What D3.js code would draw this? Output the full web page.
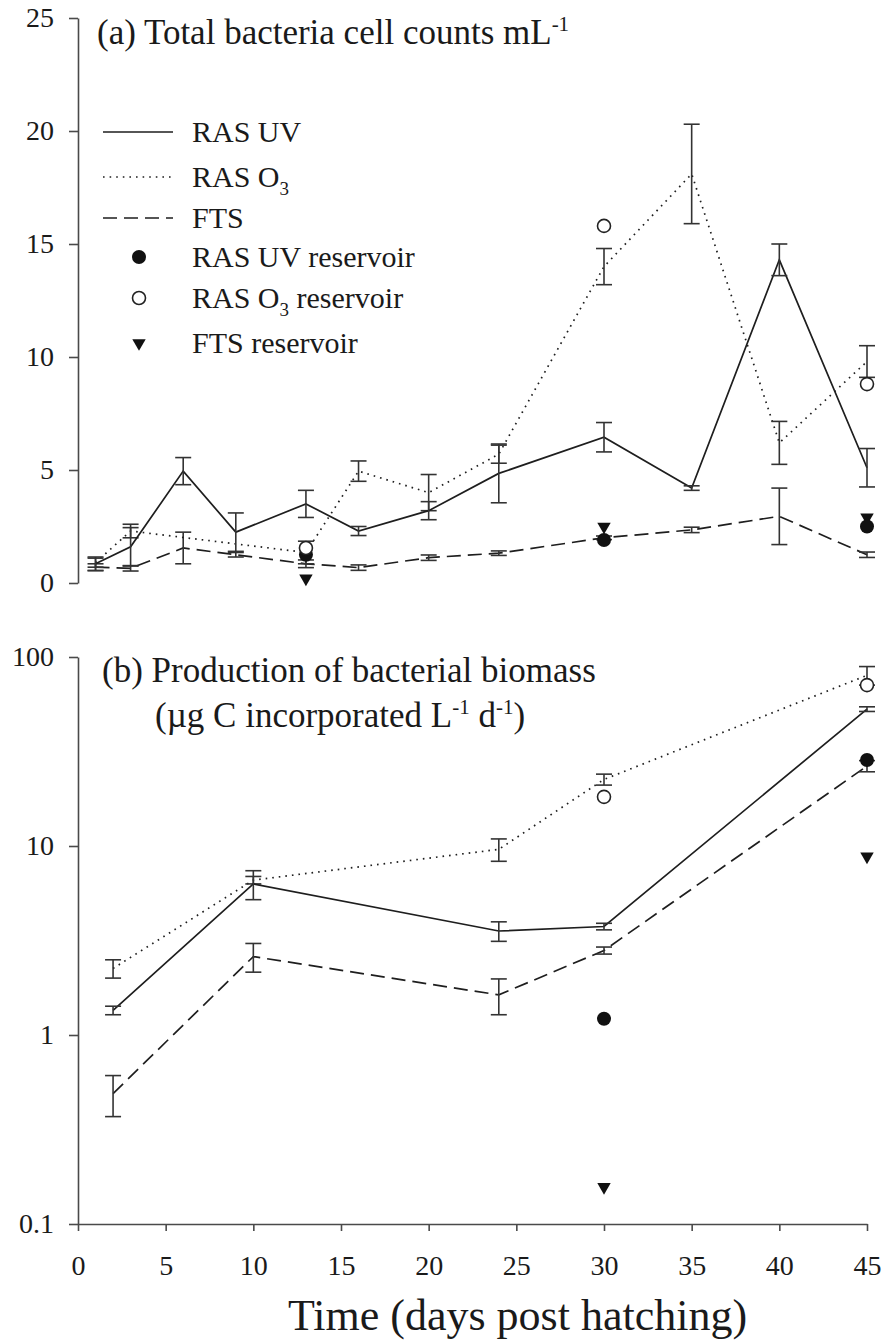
<!DOCTYPE html>
<html lang="en">
<head>
  <meta charset="utf-8">
  <title>Bacteria counts and production</title>
  <script src="https://cdn.jsdelivr.net/npm/d3@7/dist/d3.min.js"></script>
  <style>
    body { margin: 0; background: #fff; }
    text { font-family: "Liberation Serif", "Times New Roman", serif; fill: #1a1a1a; }
  </style>
</head>
<body>
  <svg class="chart" width="882" height="1341"></svg>
  <script>
    var width = 882, height = 1341;

    // panel (a): total bacteria cell counts
    var daysA     = [1, 3, 6, 9, 13, 16, 20, 24, 30, 35, 40, 45];
    var uvA       = [0.85, 1.6, 4.95, 2.25, 3.5, 2.3, 3.2, 4.85, 6.45, 4.2, 14.3, 5.1];
    var uvAErr    = [0.3, 0.85, 0.6, 0.85, 0.6, 0.2, 0.4, 1.3, 0.65, 0.1, 0.7, 0.85];
    var daysO3A   = [1, 3, 13, 16, 20, 24, 30, 35, 40, 45];
    var o3A       = [0.9, 2.3, 1.35, 4.95, 4.0, 5.7, 14.0, 18.1, 6.2, 9.8];
    var o3AErr    = [0.2, 0.3, 0.5, 0.45, 0.8, 0.4, 0.8, 2.2, 0.95, 0.7];
    var ftsA      = [0.7, 0.65, 1.55, 1.25, 0.85, 0.68, 1.12, 1.32, 2.0, 2.35, 2.95, 1.25];
    var ftsAErr   = [0.15, 0.12, 0.7, 0.1, 0.17, 0.12, 0.12, 0.1, 0.08, 0.12, 1.25, 0.12];
    var resDaysA  = [13, 30, 45];
    var uvResA    = [1.25, 1.9, 2.5];
    var o3ResA    = [1.55, 15.8, 8.8];
    var ftsResA   = [0.2, 2.5, 2.9];

    // panel (b): production of bacterial biomass
    var daysB     = [2, 10, 24, 30, 45];
    var uvB       = [1.35, 6.3, 3.55, 3.75, 53];
    var uvBErr    = [0.07, 1.1, 0.42, 0.15, 1.5];
    var o3B       = [2.25, 6.6, 9.6, 22.5, 80];
    var o3BErr    = [0.25, 0.3, 1.3, 1.5, 9];
    var ftsB      = [0.49, 2.6, 1.63, 2.8, 26.5];
    var ftsBErr   = [0.12, 0.45, 0.35, 0.12, 1.8];
    var resDaysB  = [30, 45];
    var uvResB    = [1.22, 28.5];
    var o3ResB    = [18.2, 71];
    var ftsResB   = [0.157, 8.8];

    var xTicks    = [0, 5, 10, 15, 20, 25, 30, 35, 40, 45];
    var yTicksA   = [0, 5, 10, 15, 20, 25];
    var yTicksB   = [0.1, 1, 10, 100];
    var yLabelsB  = ["0.1", "1", "10", "100"];

    var ink = "#1e1e1e", axisInk = "#4a4a4a";

    var svg = d3.select("svg.chart");

    var x = d3.scaleLinear().domain([0, 45]).range([78, 867]);
    var yA = d3.scaleLinear().domain([0, 25]).range([583, 18]);
    var yB = d3.scaleLog().domain([0.1, 100]).range([1224, 657]);

    function zip(days, vals, errs) {
      return days.map(function(d, i) {
        return { day: d, v: vals[i], e: errs ? errs[i] : 0 };
      });
    }

    function styleAxis(g) {
      g.selectAll("path.domain").attr("stroke", axisInk).attr("stroke-width", 1.6);
      g.selectAll(".tick line").attr("stroke", axisInk).attr("stroke-width", 1.6);
      g.selectAll(".tick text").attr("fill", ink).style("font-size", "28px")
       .style("font-family", "'Liberation Serif', serif");
    }

    // axes
    svg.append("g")
       .attr("transform", "translate(78,0)")
       .call(d3.axisLeft(yA).tickValues(yTicksA).tickSize(9).tickSizeOuter(0).tickPadding(15))
       .call(styleAxis);

    svg.append("g")
       .attr("transform", "translate(78,0)")
       .call(d3.axisLeft(yB).tickValues(yTicksB).tickSize(9).tickSizeOuter(0).tickPadding(15)
               .tickFormat(function(d, i) { return yLabelsB[i]; }))
       .call(styleAxis);

    svg.append("g")
       .attr("transform", "translate(0,1224)")
       .call(d3.axisBottom(x).tickValues(xTicks).tickSize(7).tickSizeOuter(0).tickPadding(24))
       .call(styleAxis);

    var lineStyles = {
      uv:  { dash: null,    width: 1.7 },
      o3:  { dash: "1.6,5", width: 1.7 },
      fts: { dash: "14,7",  width: 1.7 }
    };

    function drawSeries(data, y, style) {
      var line = d3.line()
                   .x(function(d) { return x(d.day); })
                   .y(function(d) { return y(d.v); });
      svg.append("path")
         .datum(data)
         .attr("d", line)
         .attr("fill", "none")
         .attr("stroke", ink)
         .attr("stroke-width", style.width)
         .attr("stroke-dasharray", style.dash);

      var eb = svg.append("g").attr("stroke", "#333").attr("stroke-width", 1.6);
      data.forEach(function(d) {
        var y0 = y(d.v - d.e), y1 = y(d.v + d.e), cx = x(d.day);
        eb.append("line").attr("x1", cx).attr("x2", cx).attr("y1", y0).attr("y2", y1);
        eb.append("line").attr("x1", cx - 8).attr("x2", cx + 8).attr("y1", y0).attr("y2", y0);
        eb.append("line").attr("x1", cx - 8).attr("x2", cx + 8).attr("y1", y1).attr("y2", y1);
      });
    }

    var triangle = d3.symbol().type(d3.symbolTriangle).size(78);

    function drawMarkers(days, vals, y, kind) {
      var g = svg.append("g");
      days.forEach(function(d, i) {
        var cx = x(d), cy = y(vals[i]);
        if (kind === "filled") {
          g.append("circle").attr("cx", cx).attr("cy", cy).attr("r", 7).attr("fill", "#111");
        } else if (kind === "open") {
          g.append("circle").attr("cx", cx).attr("cy", cy).attr("r", 6.5)
           .attr("fill", "#fff").attr("stroke", "#222").attr("stroke-width", 1.6);
        } else {
          g.append("path").attr("d", triangle)
           .attr("transform", "translate(" + cx + "," + cy + ") rotate(180)")
           .attr("fill", "#111");
        }
      });
    }

    // panel (a)
    drawSeries(zip(daysA, ftsA, ftsAErr), yA, lineStyles.fts);
    drawSeries(zip(daysO3A, o3A, o3AErr), yA, lineStyles.o3);
    drawSeries(zip(daysA, uvA, uvAErr), yA, lineStyles.uv);
    drawMarkers(resDaysA, ftsResA, yA, "triangle");
    drawMarkers(resDaysA, uvResA, yA, "filled");
    drawMarkers(resDaysA, o3ResA, yA, "open");

    // panel (b)
    drawSeries(zip(daysB, ftsB, ftsBErr), yB, lineStyles.fts);
    drawSeries(zip(daysB, o3B, o3BErr), yB, lineStyles.o3);
    drawSeries(zip(daysB, uvB, uvBErr), yB, lineStyles.uv);
    drawMarkers(resDaysB, ftsResB, yB, "triangle");
    drawMarkers(resDaysB, uvResB, yB, "filled");
    drawMarkers(resDaysB, o3ResB, yB, "open");

    // titles
    var tA = svg.append("text").attr("x", 97).attr("y", 44).style("font-size", "35px");
    tA.append("tspan").text("(a) Total bacteria cell counts mL");
    tA.append("tspan").attr("dy", -13).style("font-size", "21px").text("-1");

    svg.append("text").attr("x", 102).attr("y", 682).style("font-size", "35px")
       .text("(b) Production of bacterial biomass");
    var tB = svg.append("text").attr("x", 155).attr("y", 727).style("font-size", "35px");
    tB.append("tspan").text("(\u00b5g C incorporated L");
    tB.append("tspan").attr("dy", -13).style("font-size", "21px").text("-1");
    tB.append("tspan").attr("dy", 13).text(" d");
    tB.append("tspan").attr("dy", -13).style("font-size", "21px").text("-1");
    tB.append("tspan").attr("dy", 13).text(")");

    svg.append("text").attr("x", 288).attr("y", 1330)
       .style("font-size", "44px").text("Time (days post hatching)");

    // legend
    var legLines = [
      { key: "uv",  label: "RAS UV", sub: null, y: 132 },
      { key: "o3",  label: "RAS O",  sub: "3",  y: 177 },
      { key: "fts", label: "FTS",    sub: null, y: 218 }
    ];
    legLines.forEach(function(l) {
      var st = lineStyles[l.key];
      svg.append("line").attr("x1", 103).attr("x2", 173).attr("y1", l.y).attr("y2", l.y)
         .attr("stroke", ink).attr("stroke-width", st.width).attr("stroke-dasharray", st.dash);
      var t = svg.append("text").attr("x", 192).attr("y", l.y + 10).style("font-size", "30px");
      t.append("tspan").text(l.label);
      if (l.sub) t.append("tspan").attr("dy", 8).style("font-size", "19px").text(l.sub);
    });

    var legMarks = [
      { kind: "filled",   label: "RAS UV", sub: null, rest: " reservoir", y: 257 },
      { kind: "open",     label: "RAS O",  sub: "3",  rest: " reservoir", y: 298 },
      { kind: "triangle", label: "FTS",    sub: null, rest: " reservoir", y: 343 }
    ];
    legMarks.forEach(function(m) {
      var g = svg.append("g");
      if (m.kind === "filled") {
        g.append("circle").attr("cx", 139).attr("cy", m.y).attr("r", 7).attr("fill", "#111");
      } else if (m.kind === "open") {
        g.append("circle").attr("cx", 139).attr("cy", m.y).attr("r", 6.5)
         .attr("fill", "#fff").attr("stroke", "#222").attr("stroke-width", 1.6);
      } else {
        g.append("path").attr("d", triangle)
         .attr("transform", "translate(139," + m.y + ") rotate(180)").attr("fill", "#111");
      }
      var t = svg.append("text").attr("x", 192).attr("y", m.y + 10).style("font-size", "30px");
      t.append("tspan").text(m.label);
      if (m.sub) {
        t.append("tspan").attr("dy", 8).style("font-size", "19px").text(m.sub);
        t.append("tspan").attr("dy", -8).text(m.rest);
      } else {
        t.append("tspan").text(m.rest);
      }
    });
  </script>
</body>
</html>
